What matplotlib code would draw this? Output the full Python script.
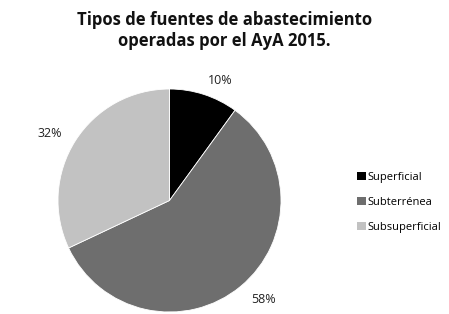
import matplotlib

matplotlib.use("Agg")

import matplotlib.pyplot as plt
from matplotlib.patches import Patch

title = "Tipos de fuentes de abastecimiento\noperadas por el AyA 2015."
categories = ["Superficial", "Subterrénea", "Subsuperficial"]
shares = [10, 58, 32]
colors = ["#000000", "#6e6e6e", "#c2c2c2"]

# small Excel-like offsets of the percentage labels (axes data units)
label_nudge = [(0.076, -0.084), (0.065, 0.048), (-0.046, -0.049)]

plt.rcParams["font.family"] = ["Open Sans", "DejaVu Sans"]

fig = plt.figure(figsize=(4.49, 3.14), dpi=100)
fig.text(0.5, 0.903, title, ha="center", va="center", fontsize=12,
         fontweight="bold", linespacing=1.25, color="#111111")

# pie centre ~ (169.5, 200.5) px, radius ~111.5 px
ax = fig.add_axes([58 / 449, 2 / 314, 223 / 449, 223 / 314])
wedges, texts, autotexts = ax.pie(
    shares,
    colors=colors,
    startangle=90,
    counterclock=False,
    autopct="%d%%",
    pctdistance=1.22,
    wedgeprops={"edgecolor": "white", "linewidth": 0.6},
    textprops={"fontsize": 9, "color": "#222222"},
)
for txt, (dx, dy) in zip(autotexts, label_nudge):
    x, y = txt.get_position()
    txt.set_position((x + dx, y + dy))
ax.set_xlim(-1, 1)
ax.set_ylim(-1, 1)

handles = [Patch(facecolor=c, edgecolor="none") for c in colors]
fig.legend(
    handles,
    categories,
    loc="center left",
    bbox_to_anchor=(0.772, 0.355),
    frameon=False,
    fontsize=8,
    handlelength=0.8,
    handleheight=0.8,
    handletextpad=0.15,
    labelspacing=1.25,
)

fig.savefig("out.png", dpi=100)
